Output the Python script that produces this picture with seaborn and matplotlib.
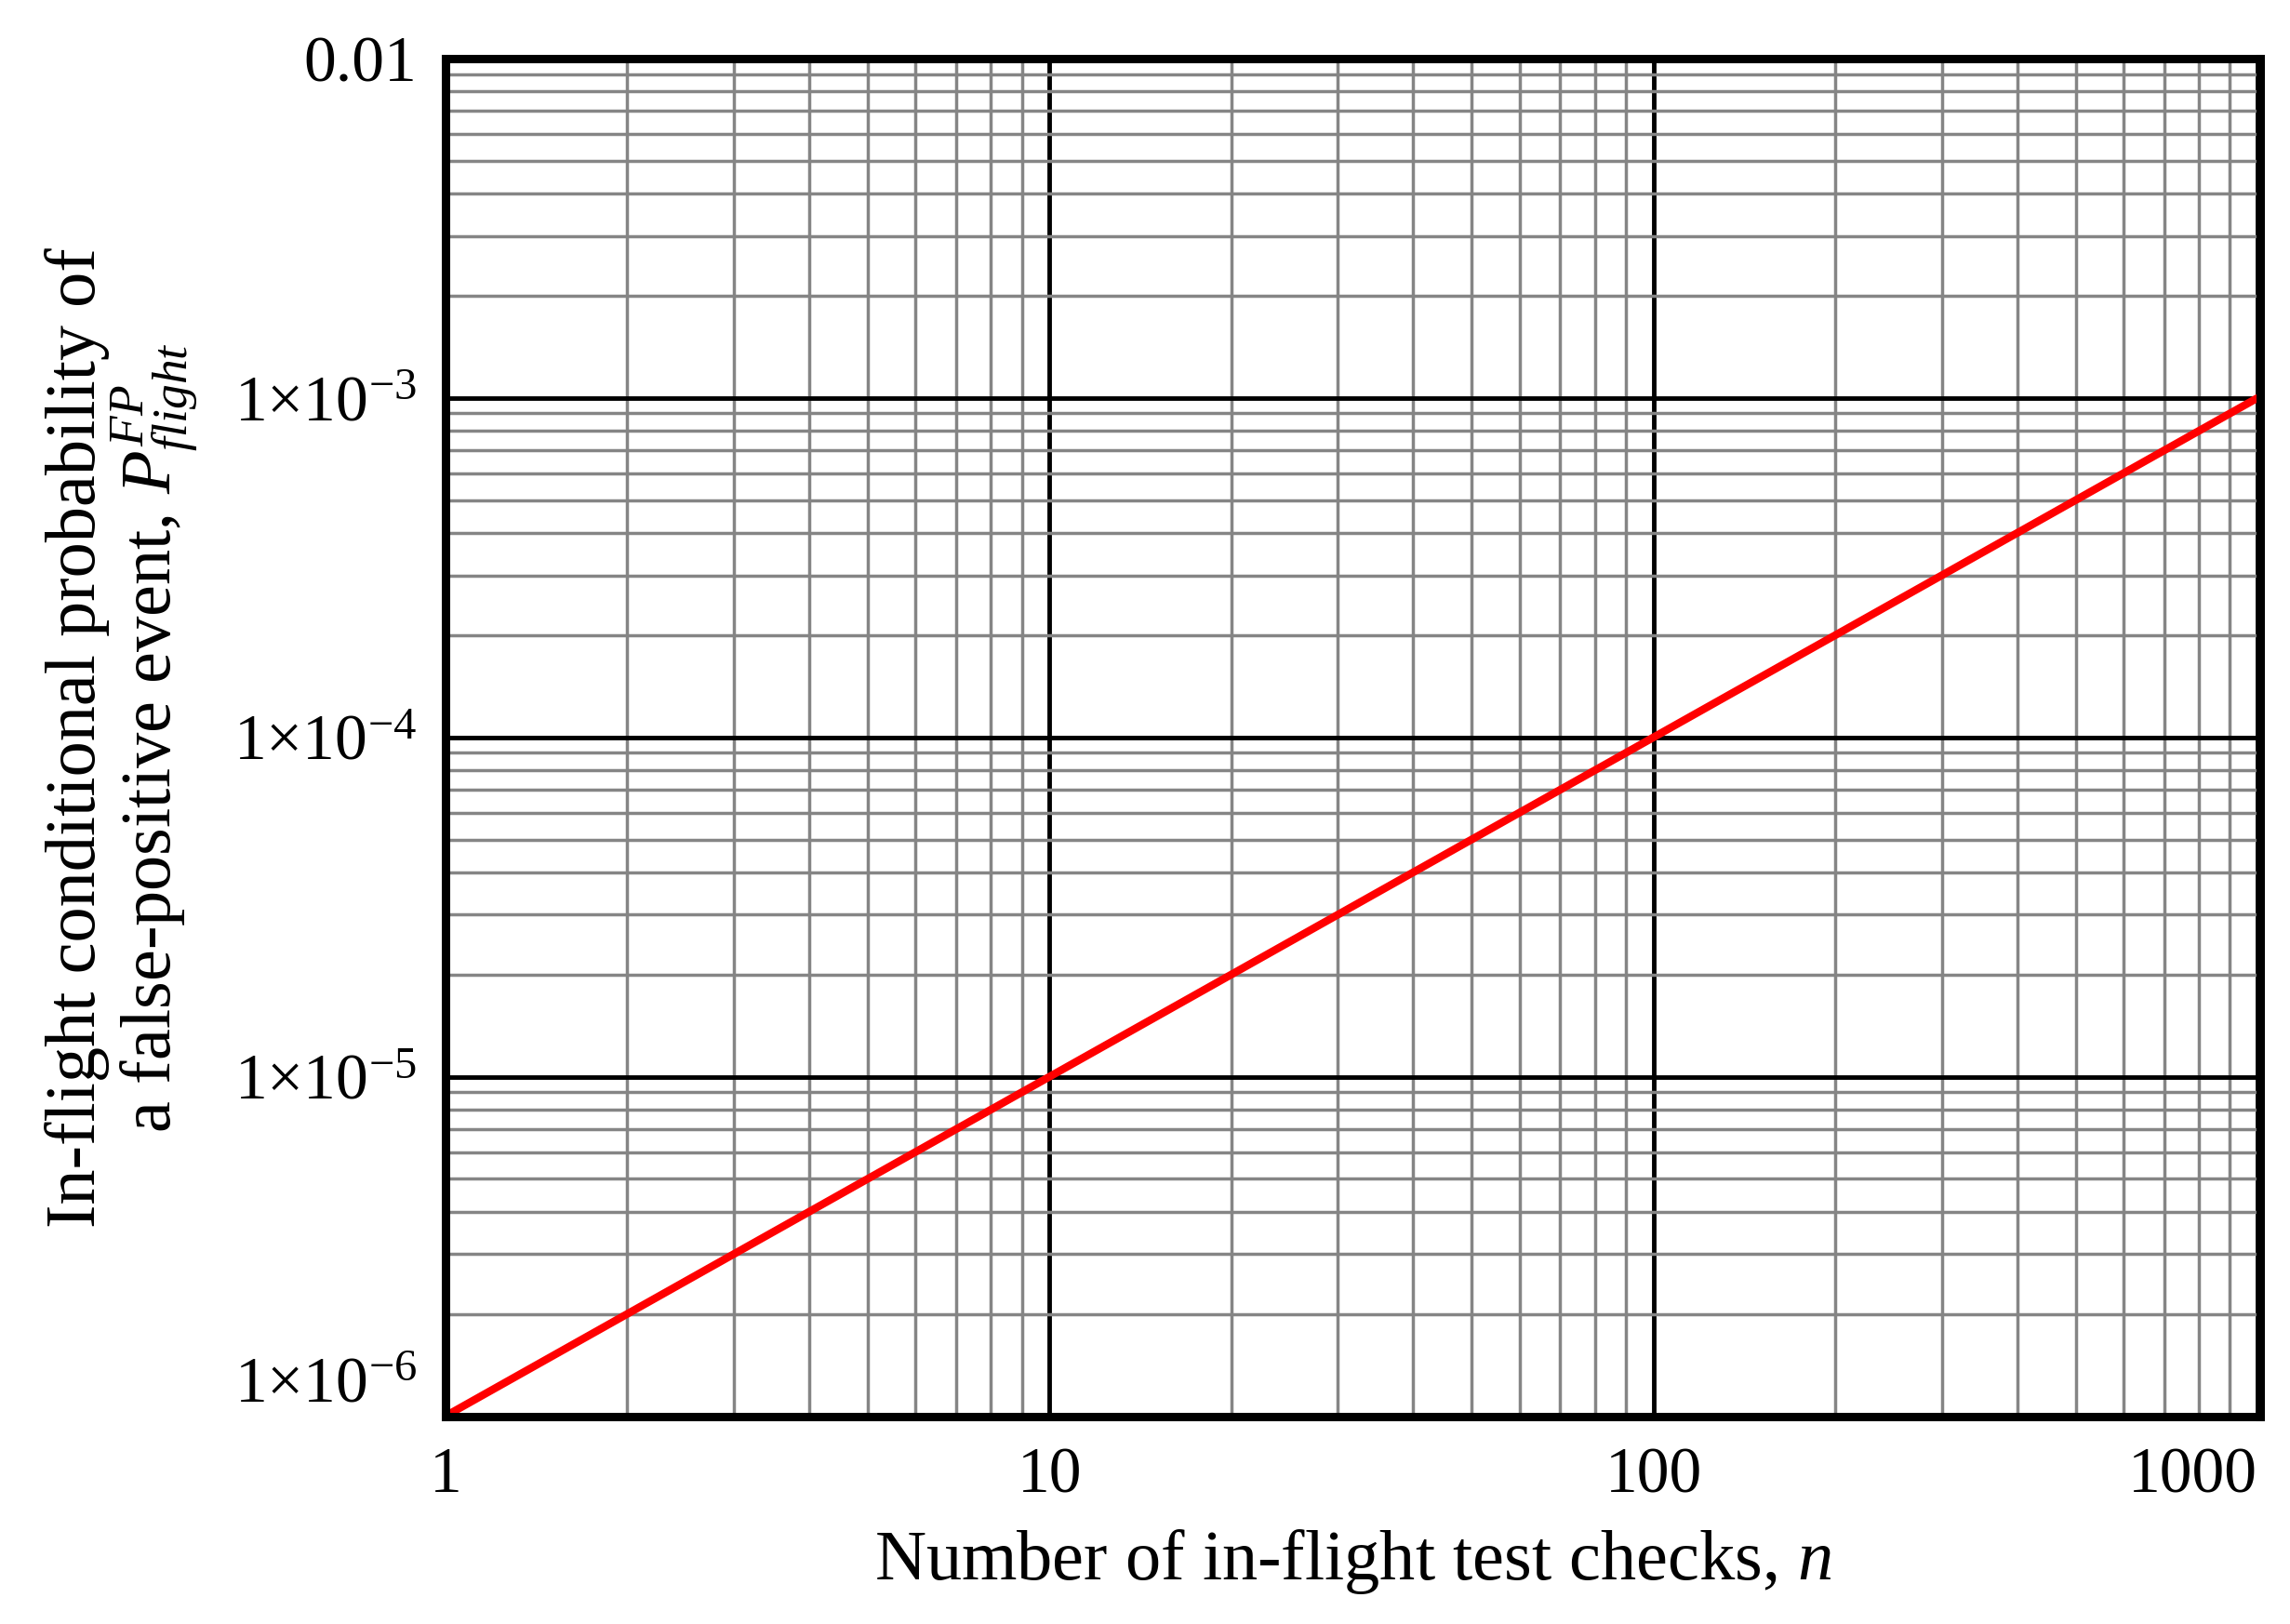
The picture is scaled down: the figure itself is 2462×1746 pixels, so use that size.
import numpy as np
import pandas as pd
import matplotlib
matplotlib.use('Agg')
import matplotlib.pyplot as plt
import seaborn as sns
from matplotlib.ticker import FixedLocator, LogLocator, NullFormatter

# values
n_checks = [1, 2, 5, 10, 20, 50, 100, 200, 500, 1000]
p_fp = [1e-6, 2e-6, 5e-6, 1e-5, 2e-5, 5e-5, 1e-4, 2e-4, 5e-4, 1e-3]

x_ticks = [1, 10, 100, 1000]
x_labels = ['1', '10', '100', '1000']
y_ticks = [1e-6, 1e-5, 1e-4, 1e-3, 1e-2]
y_labels = [r'$1{\times}10^{-6}$', r'$1{\times}10^{-5}$', r'$1{\times}10^{-4}$',
            r'$1{\times}10^{-3}$', '0.01']

sns.set_style('white')
plt.rcParams['font.family'] = ['Liberation Serif', 'DejaVu Serif']
plt.rcParams['mathtext.fontset'] = 'custom'
plt.rcParams['mathtext.rm'] = 'Liberation Serif'
plt.rcParams['mathtext.it'] = 'Liberation Serif:italic'
plt.rcParams['text.color'] = 'black'
plt.rcParams['axes.labelcolor'] = 'black'

df = pd.DataFrame({'n': n_checks, 'p': p_fp})

fig = plt.figure(figsize=(24.62, 17.46), dpi=100)
ax = fig.add_axes([0.1945, 0.128, 0.7925, 0.836])

sns.lineplot(data=df, x='n', y='p', ax=ax, color='red', lw=6)

ax.set_xscale('log')
ax.set_yscale('log')
ax.set_xlim(1, 1010)
ax.set_ylim(1e-6, 1e-2)

ax.xaxis.set_major_locator(FixedLocator(x_ticks))
ax.yaxis.set_major_locator(FixedLocator(y_ticks))
ax.xaxis.set_minor_locator(LogLocator(base=10, subs=range(2, 10), numticks=20))
ax.yaxis.set_minor_locator(LogLocator(base=10, subs=range(2, 10), numticks=20))
ax.xaxis.set_minor_formatter(NullFormatter())
ax.yaxis.set_minor_formatter(NullFormatter())
ax.set_xticklabels(x_labels)
ax.set_yticklabels(y_labels)

ax.grid(which='major', color='black', lw=3.5)
ax.grid(which='minor', color='#858585', lw=2.5)
ax.set_axisbelow(True)
ax.tick_params(which='both', length=0, labelsize=50, colors='black')
ax.tick_params(axis='y', pad=22)
ax.tick_params(axis='x', pad=24)

# end labels sit inside the frame like the original
ax.get_yticklabels()[0].set_va('bottom')
ax.get_xticklabels()[-1].set_ha('right')

for s in ax.spines.values():
    s.set_visible(True)
    s.set_color('black')
    s.set_linewidth(6.5)

ax.set_xlabel('Number of in-flight test checks, $n$', fontsize=55, labelpad=16,
              color='black')
ax.set_ylabel('In-flight conditional probability of\n'
              r'a false-positive event, $P^{FP}_{flight}$',
              fontsize=55, labelpad=26, linespacing=1.0, color='black')

fig.savefig('out.png', dpi=100)
